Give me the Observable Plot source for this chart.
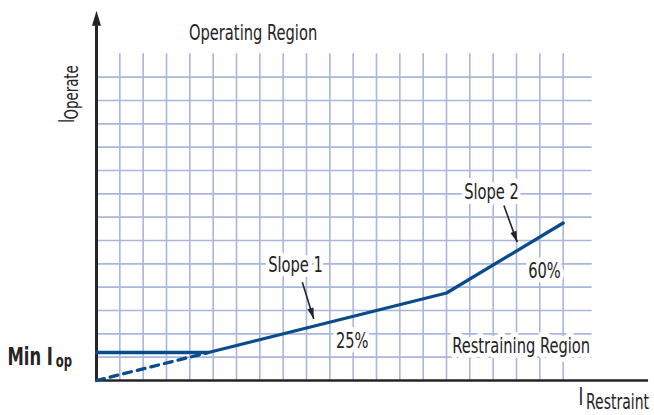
<!DOCTYPE html>
<html>
<head>
<meta charset="utf-8">
<script src="https://cdn.jsdelivr.net/npm/d3@7"></script>
<script src="https://cdn.jsdelivr.net/npm/@observablehq/plot@0.6"></script>
<style>
  html, body { margin: 0; padding: 0; background: #fff; }
  #chart svg { display: block; }
</style>
</head>
<body>
<div id="chart"></div>
<script>
// Grid positions (restraint units on x, operate units on y)
const gridX = [1, 2, 3, 4, 5, 6, 7, 8, 9, 10, 11, 12, 13, 14, 15, 16, 17, 18, 19, 20];
const gridY = [1, 2, 3, 4, 5, 6, 7, 8, 9, 10, 11, 12, 13];
const gridTop = 14;
const gridRight = 21.24;
const axisXEnd = 23.66;
const axisYEnd = 15.2;

// Characteristic: Min Iop, Slope 1 (25%), Slope 2 (60%)
const charX = [0, 4.8, 15, 20];
const charY = [1.2, 1.2, 3.75, 6.75];
// Slope 1 extension through origin (dashed)
const dashX = [0, 4.8];
const dashY = [0, 1.2];

// Annotation labels (in data units)
const labelText = ["Operating Region", "Slope 1", "Slope 2", "25%", "60%", "Restraining Region"];
const labelX = [6.71, 8.53, 16.93, 10.96, 19.2, 18.2];
const labelY = [14.89, 4.93, 8.07, 1.70, 4.70, 1.46];
const labelHalo = [false, true, true, true, true, true];

// Pointer arrows
const arrowX1 = [8.82, 17.46];
const arrowY1 = [4.21, 7.50];
const arrowX2 = [9.31, 18.03];
const arrowY2 = [2.64, 5.93];

const FONT = "'DejaVu Sans Condensed', 'DejaVu Sans', sans-serif";
const INK = "#262324";
const GRID = "#a9b6dd";
const LINE = "#0a4b8b";
const CONDENSE = 0.76;

const charData = charX.map((x, i) => ({x, y: charY[i]}));
const dashData = dashX.map((x, i) => ({x, y: dashY[i]}));
const labels = labelText.map((t, i) => ({t, x: labelX[i], y: labelY[i], halo: labelHalo[i]}));
const arrows = arrowX1.map((x1, i) => ({x1, y1: arrowY1[i], x2: arrowX2[i], y2: arrowY2[i]}));

// filled arrowheads
const axisHead = {
  draw(context) {
    context.moveTo(0, -15);
    context.lineTo(4.5, 0);
    context.lineTo(-4.5, 0);
    context.closePath();
  }
};
const pointerHead = {
  draw(context) {
    context.moveTo(0, 0);
    context.lineTo(3.2, 11);
    context.lineTo(-3.2, 11);
    context.closePath();
  }
};
const headAngle = d => Math.atan2(d.x2 - d.x1, d.y2 - d.y1) * 180 / Math.PI;

const chart = Plot.plot({
  width: 654,
  height: 415,
  x: {domain: [0, 20], range: [96, 562.67], axis: null},
  y: {domain: [0, 14], range: [380, 53.33], axis: null},
  style: {fontFamily: FONT, background: "white", overflow: "visible"},
  marks: [
    // grid
    Plot.ruleX(gridX, {y1: 0, y2: gridTop, stroke: GRID, strokeWidth: 1.6}),
    Plot.ruleY(gridY, {x1: 0, x2: gridRight, stroke: GRID, strokeWidth: 1.6}),
    // labels with white boxes (halo)
    Plot.text(labels.filter(d => d.halo), {
      x: "x", y: "y", text: "t", fontSize: 21.5, fill: INK,
      stroke: "white", strokeWidth: 10, strokeLinejoin: "round"
    }),
    Plot.text(labels.filter(d => !d.halo), {
      x: "x", y: "y", text: "t", fontSize: 21.5, fill: INK
    }),
    // axes
    Plot.ruleY([0], {x1: 0, x2: axisXEnd, stroke: INK, strokeWidth: 2.5}),
    Plot.ruleX([0], {y1: 0, y2: axisYEnd, stroke: INK, strokeWidth: 3}),
    Plot.dot([{x: 0, y: axisYEnd}], {x: "x", y: "y", symbol: axisHead, fill: INK, stroke: null}),
    // characteristic
    Plot.line(dashData, {x: "x", y: "y", stroke: LINE, strokeWidth: 3.3, strokeDasharray: "8,6"}),
    Plot.line(charData, {x: "x", y: "y", stroke: LINE, strokeWidth: 3.3, strokeLinejoin: "round"}),
    // pointer arrows
    Plot.link(arrows, {x1: "x1", y1: "y1", x2: "x2", y2: "y2", stroke: INK, strokeWidth: 1.6}),
    Plot.dot(arrows, {x: "x2", y: "y2", symbol: pointerHead, rotate: headAngle, fill: INK, stroke: null}),
    // axis titles with subscripts
    Plot.text(["Min I"], {x: -1.87, y: 1.01, text: d => d, textAnchor: "end", fontSize: 24, fontWeight: "bold", fill: INK}),
    Plot.text(["op"], {x: -1.75, y: 0.80, text: d => d, textAnchor: "start", fontSize: 17, fontWeight: "bold", fill: INK}),
    Plot.text(["I"], {x: 20.66, y: -0.74, text: d => d, textAnchor: "start", fontSize: 24, fill: INK}),
    Plot.text(["Restraint"], {x: 20.98, y: -0.93, text: d => d, textAnchor: "start", fontSize: 20.5, fill: INK}),
    Plot.text(["I"], {x: -1.26, y: 11.04, text: d => d, textAnchor: "start", rotate: -90, fontSize: 21, fill: INK}),
    Plot.text(["Operate"], {x: -1.08, y: 11.19, text: d => d, textAnchor: "start", rotate: -90, fontSize: 19.5, fill: INK})
  ]
});
document.getElementById("chart").appendChild(chart);

// emulate the condensed typeface of the original: squeeze each text along its own baseline
chart.querySelectorAll("text").forEach(t => {
  const tr = t.getAttribute("transform");
  if (tr) t.setAttribute("transform", `${tr} scale(${CONDENSE},1)`);
});
</script>
</body>
</html>
